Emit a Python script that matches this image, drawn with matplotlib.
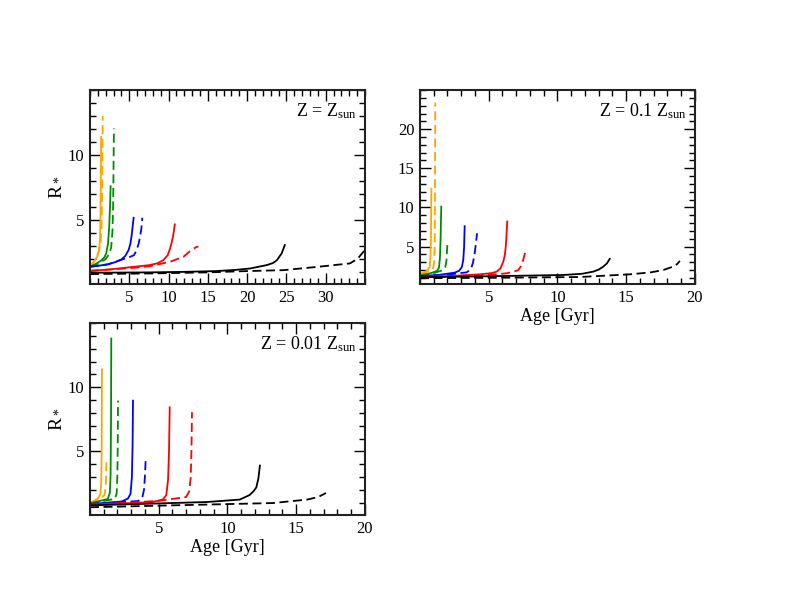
import numpy as np
import matplotlib
matplotlib.use("Agg")
from matplotlib import pyplot as plt
from matplotlib.ticker import MultipleLocator

plt.rcParams['font.family'] = ['Liberation Serif', 'DejaVu Serif']
plt.rcParams['mathtext.fontset'] = 'custom'
plt.rcParams['mathtext.rm'] = 'Liberation Serif'
plt.rcParams['mathtext.it'] = 'Liberation Serif:italic'

# mase zvezda: orange, green, blue, red, black ; solid / dashed
boje = ['#FFA500', '#008B00', '#0000FF', '#FF0000', '#000000']

# ---- Z = Zsun ----
z1_x = [
    [0, 0.5, 0.93, 1.15, 1.27, 1.33, 1.38, 1.42],
    [0, 0.8, 1.44, 1.85, 2.08, 2.3, 2.45, 2.55, 2.63],
    [0, 1.2, 2.29, 3.3, 3.99, 4.5, 4.92, 5.15, 5.3, 5.45, 5.56],
    [0, 2.5, 4.84, 7.6, 8.6, 9.33, 9.9, 10.2, 10.45, 10.6, 10.8],
    [0, 7.6, 12, 16.1, 18.5, 20.4, 22.5, 23.3, 23.8, 24.4, 24.8],
]
z1_y = [
    [1.4, 1.8, 2.2, 2.7, 3.5, 5.0, 8.0, 11.4],
    [1.4, 1.65, 1.9, 2.15, 2.46, 3.2, 4.5, 6.0, 7.6],
    [1.41, 1.5, 1.6, 1.78, 1.97, 2.25, 2.7, 3.2, 3.8, 4.6, 5.18],
    [1.1, 1.2, 1.36, 1.54, 1.68, 1.92, 2.3, 2.82, 3.4, 3.85, 4.67],
    [0.95, 0.98, 1.02, 1.08, 1.17, 1.28, 1.54, 1.7, 1.92, 2.44, 3.08],
]
z1_xd = [
    [0, 0.6, 1.1, 1.35, 1.48, 1.55, 1.59, 1.62],
    [0, 1.0, 2.0, 2.45, 2.7, 2.85, 2.95, 3.0, 3.05],
    [0, 2.3, 4.0, 5.0, 5.6, 5.95, 6.2, 6.4, 6.55, 6.66],
    [0, 5, 7.6, 10.2, 11.9, 12.9, 13.6, 13.8],
    [0, 8, 15, 20, 24.6, 28.9, 33.1, 34.1, 34.8, 35.5],
]
z1_yd = [
    [1.4, 1.9, 2.5, 3.2, 4.5, 7, 10, 13.0],
    [1.4, 1.65, 2.0, 2.4, 2.9, 4, 6, 9, 12.05],
    [1.41, 1.6, 1.95, 2.15, 2.3, 2.7, 3.2, 3.8, 4.4, 5.18],
    [1.1, 1.3, 1.45, 1.8, 2.18, 2.7, 2.95, 2.95],
    [0.85, 0.9, 0.98, 1.08, 1.15, 1.4, 1.67, 2.05, 2.56, 2.9],
]

# ---- Z = 0.1 Zsun ----
z2_x = [
    [0, 0.3, 0.58, 0.7, 0.76, 0.8, 0.83],
    [0, 0.8, 1.25, 1.38, 1.45, 1.5, 1.55],
    [0, 1.5, 2.52, 2.85, 3.05, 3.15, 3.21, 3.25],
    [0, 2.5, 4.36, 5.2, 5.58, 5.85, 6.06, 6.18, 6.25, 6.35],
    [0, 5, 10.4, 11.8, 12.6, 13.0, 13.33, 13.6, 13.8],
]
z2_y = [
    [1.49, 1.7, 2.0, 2.4, 3.5, 6.5, 12.4],
    [1.3, 1.6, 1.9, 2.3, 3.5, 6, 10.1],
    [1.2, 1.4, 1.66, 1.9, 2.4, 3.3, 5.0, 7.6],
    [1.1, 1.25, 1.45, 1.6, 1.79, 2.2, 3.07, 4.0, 5.2, 8.2],
    [1.07, 1.2, 1.36, 1.52, 1.79, 2.05, 2.43, 2.85, 3.42],
]
z2_xd = [
    [0, 0.6, 0.95, 1.03, 1.07, 1.09, 1.11],
    [0, 1.0, 1.7, 1.85, 1.93, 1.99],
    [0, 2.5, 3.4, 3.7, 3.85, 3.97, 4.07, 4.15],
    [0, 3, 5.58, 6.3, 6.85, 7.15, 7.35, 7.47, 7.6, 7.68],
    [0, 5, 11.6, 15.3, 16.8, 17.7, 18.4, 18.7, 18.9],
]
z2_yd = [
    [1.49, 1.8, 2.2, 3, 5, 12, 23.4],
    [1.3, 1.6, 2.0, 2.4, 3.3, 5.2],
    [1.2, 1.5, 1.7, 2.1, 2.9, 4.0, 5.4, 6.7],
    [1.1, 1.25, 1.45, 1.58, 1.8, 2.0, 2.5, 3.07, 3.9, 4.57],
    [0.95, 1.0, 1.1, 1.45, 1.7, 2.0, 2.43, 2.75, 3.16],
]

# ---- Z = 0.01 Zsun ----
z3_x = [
    [0, 0.58, 0.76, 0.82, 0.85, 0.87],
    [0, 1.3, 1.45, 1.5, 1.53, 1.55],
    [0, 2.3, 2.76, 2.95, 3.05, 3.1, 3.13],
    [0, 4.5, 5.3, 5.55, 5.68, 5.75, 5.8],
    [0, 4, 8.5, 10.9, 11.6, 11.9, 12.1, 12.25, 12.36],
]
z3_y = [
    [0.98, 1.33, 1.7, 2.6, 5.0, 11.4],
    [0.95, 1.3, 1.8, 3.2, 7, 13.8],
    [0.9, 1.1, 1.33, 1.7, 3.0, 5.5, 8.96],
    [0.85, 1.05, 1.25, 1.6, 2.8, 5.0, 8.44],
    [0.8, 0.92, 1.06, 1.25, 1.6, 1.9, 2.2, 2.9, 3.9],
]
z3_xd = [
    [0, 0.7, 1.05, 1.14, 1.18, 1.2],
    [0, 1.8, 1.94, 1.99, 2.02, 2.04],
    [0, 3.5, 3.8, 3.93, 4.0, 4.05],
    [0, 5, 7.0, 7.22, 7.33, 7.38, 7.42],
    [0, 6, 13.3, 15.8, 16.6, 17.16],
]
z3_yd = [
    [0.98, 1.3, 1.6, 2.2, 3.2, 4.35],
    [0.95, 1.3, 1.7, 3.0, 5.5, 8.96],
    [0.9, 1.14, 1.4, 2.0, 3.1, 4.35],
    [0.85, 1.15, 1.45, 1.9, 3.0, 5.0, 8.06],
    [0.65, 0.8, 0.98, 1.25, 1.45, 1.76],
]

fig = plt.figure(figsize=(7.85, 6.07), dpi=100)

paneli = [
    dict(pos=[0.1146, 0.532, 0.3503, 0.3196], xs=z1_x, ys=z1_y, xd=z1_xd, yd=z1_yd,
         xlim=(0, 35), ylim=(0.08, 15), xt=[5, 10, 15, 20, 25, 30], yt=[5, 10],
         tekst=r'Z = Z$_{\rm sun}$', xlab=None, ylab=r'R$_*$'),
    dict(pos=[0.535, 0.532, 0.3503, 0.3196], xs=z2_x, ys=z2_y, xd=z2_xd, yd=z2_yd,
         xlim=(0, 20), ylim=(0.2, 25), xt=[5, 10, 15, 20], yt=[5, 10, 15, 20],
         tekst=r'Z = 0.1 Z$_{\rm sun}$', xlab='Age [Gyr]', ylab=None),
    dict(pos=[0.1146, 0.1516, 0.3503, 0.316], xs=z3_x, ys=z3_y, xd=z3_xd, yd=z3_yd,
         xlim=(0, 20), ylim=(0.05, 15), xt=[5, 10, 15, 20], yt=[5, 10],
         tekst=r'Z = 0.01 Z$_{\rm sun}$', xlab='Age [Gyr]', ylab=r'R$_*$'),
]

for p in paneli:
    ax = fig.add_axes(p['pos'])
    for i in range(5):
        ax.plot(p['xs'][i], p['ys'][i], color=boje[i], lw=1.3, solid_joinstyle='round')
        ax.plot(p['xd'][i], p['yd'][i], color=boje[i], lw=1.3, linestyle=(0, (5, 2.5)))
    ax.set_xlim(p['xlim'])
    ax.set_ylim(p['ylim'])
    ax.set_xticks(p['xt'])
    ax.set_yticks(p['yt'])
    ax.xaxis.set_minor_locator(MultipleLocator(1))
    ax.yaxis.set_minor_locator(MultipleLocator(1))
    ax.tick_params(which='both', direction='in', top=True, right=True, labelsize=12)
    ax.tick_params(which='major', length=8, width=1.0, pad=4)
    ax.tick_params(which='minor', length=4, width=1.0)
    for s in ax.spines.values():
        s.set_linewidth(1.5)
        s.set_color('#222222')
    ax.text(0.97, 0.94, p['tekst'], transform=ax.transAxes, ha='right', va='top', fontsize=13)
    if p['xlab']:
        ax.set_xlabel(p['xlab'], fontsize=13, labelpad=2)
    if p['ylab']:
        ax.set_ylabel(p['ylab'], fontsize=14, labelpad=3)

fig.savefig('out.png', dpi=100)
